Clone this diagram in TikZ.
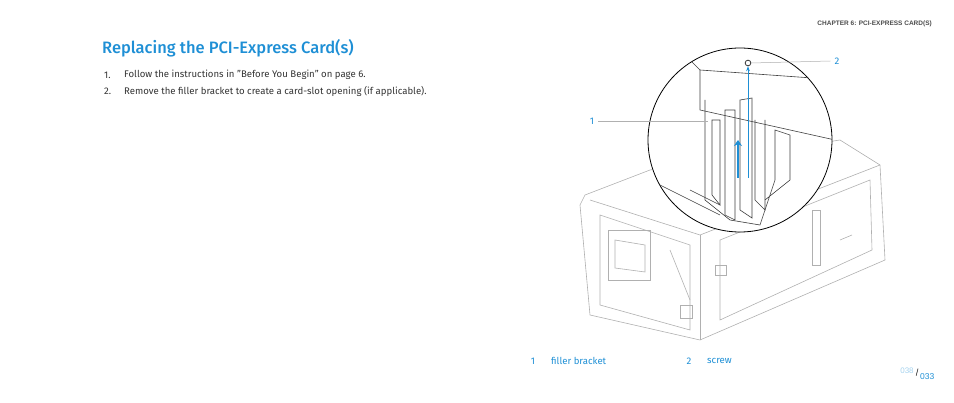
\documentclass[tikz,border=0pt]{standalone}
\usetikzlibrary{arrows.meta}
\usepackage{fontspec}
\setmainfont{Fira Sans}
\newfontfamily\hfont{Liberation Sans}
\newfontfamily\tfont{Fira Sans Medium}
\definecolor{ablue}{HTML}{1E8FD5}
\definecolor{atext}{HTML}{333333}
\definecolor{lgray}{HTML}{B0B0B0}
\begin{document}
\begin{tikzpicture}[x=1pt,y=-1pt,
 body/.style={anchor=west,font=\fontsize{9.6}{11}\selectfont,text=atext,inner sep=0},
 blabel/.style={font=\fontsize{9.6}{11}\selectfont,text=ablue,inner sep=0},
 case/.style={draw=lgray,line width=0.6pt},
 part/.style={draw=black!75,line width=0.6pt}]
\useasboundingbox (0,0) rectangle (954,403);
\node[anchor=east,inner sep=0,font=\hfont\bfseries\fontsize{6.5}{8}\selectfont,text=black!70] (hdr) at (932,24) {CHAPTER 6: PCI-EXPRESS CARD(S)};
\node[anchor=west,inner sep=0,font=\tfont\fontsize{16.5}{19}\selectfont,text=ablue] (title) at (102,48) {Replacing the PCI-Express Card(s)};
\node[body] (s1n) at (104,75) {1.};
\node[body] (s1) at (124,75) {Follow the instructions in "Before You Begin" on page 6.};
\node[body] (s2n) at (104,91) {2.};
\node[body] (s2) at (124,91) {Remove the filler bracket to create a card-slot opening (if applicable).};
% case
\draw[case] (580,205) -- (585,195) -- (650,170) -- (840,140) -- (880,165) -- (885,260) -- (700,340) -- (590,315) -- cycle;
\draw[case] (590,200) -- (700,235) -- (880,165);
\draw[case] (700,235) -- (700,340);
\draw[case] (600,215) -- (690,245) -- (690,330) -- (600,305) -- cycle;
\draw[case] (608,230) rectangle (650,280);
\draw[case] (615,240) -- (645,245) -- (645,272) -- (615,268) -- cycle;
\draw[case] (720,240) -- (870,180) -- (872,250) -- (720,320) -- cycle;
\draw[case] (812,210) rectangle (820,265);
\draw[case] (840,240) -- (852,235);
\draw[case] (670,250) -- (690,300);
\draw[case] (715,265) rectangle (726,275);
\draw[case] (680,305) rectangle (692,318);
% magnified circle
\draw[fill=white,line width=0.8pt] (740,140) circle (92);
\begin{scope}
\clip (740,140) circle (92);
\draw[part] (690,60) -- (700,70) -- (840,80);
\draw[part] (700,70) -- (700,110) -- (835,140);
\draw[part] (705,100) -- (705,200) -- (730,220) -- (760,225) -- (775,180) -- (775,130) -- (790,135) -- (790,180) -- (765,200);
\draw[part] (712,120) -- (712,195) -- (720,205) -- (720,120) -- cycle;
\draw[part] (725,110) -- (725,215) -- (735,220) -- (735,110) -- cycle;
\draw[part] (740,100) -- (740,210) -- (752,218) -- (752,98) -- cycle;
\draw[part] (755,120) -- (755,200) -- (765,210) -- (765,120);
\draw[part] (690,190) -- (720,205);
\draw[part] (650,180) -- (720,215);
\draw[part] (660,210) -- (730,240);
\end{scope}
\node[draw=black!80,circle,inner sep=2pt,line width=0.8pt] (scr) at (748,63) {};
\coordinate (scrb) at (748,178);
\draw[ablue,line width=1pt,-{Stealth[length=5pt]}] (scrb) -- (scr.south);
\coordinate (brk1) at (738,178);
\coordinate (brk2) at (738,140);
\draw[ablue,line width=2pt,-{Stealth[length=6pt,width=8pt]}] (brk1) -- (brk2);
% callouts
\node[blabel] (c1) at (592,121) {1};
\coordinate (c1e) at (708,121);
\draw[lgray,line width=0.5pt] (c1.east)+(4,0) -- (c1e);
\node[blabel] (c2) at (837,61) {2};
\draw[lgray,line width=0.5pt] (c2.west)+(-4,0) -- (scr.east);
% legend
\node[blabel] (l1n) at (533,361) {1};
\node[blabel,anchor=west] (l1) at (551,361) {filler bracket};
\node[blabel] (l2n) at (689,361) {2};
\node[blabel,anchor=west] (l2) at (707,361) {screw};
\node[inner sep=0,font=\hfont\fontsize{8}{9}\selectfont,text=ablue!40] (pg) at (907,371) {038};
\node[anchor=west,inner sep=0,font=\fontsize{8}{9}\selectfont,text=black] (sl) at (915,373) {/};
\node[anchor=west,inner sep=0,font=\hfont\fontsize{8.5}{9}\selectfont,text=ablue] (pg2) at (920,377) {033};
\end{tikzpicture}
\end{document}
